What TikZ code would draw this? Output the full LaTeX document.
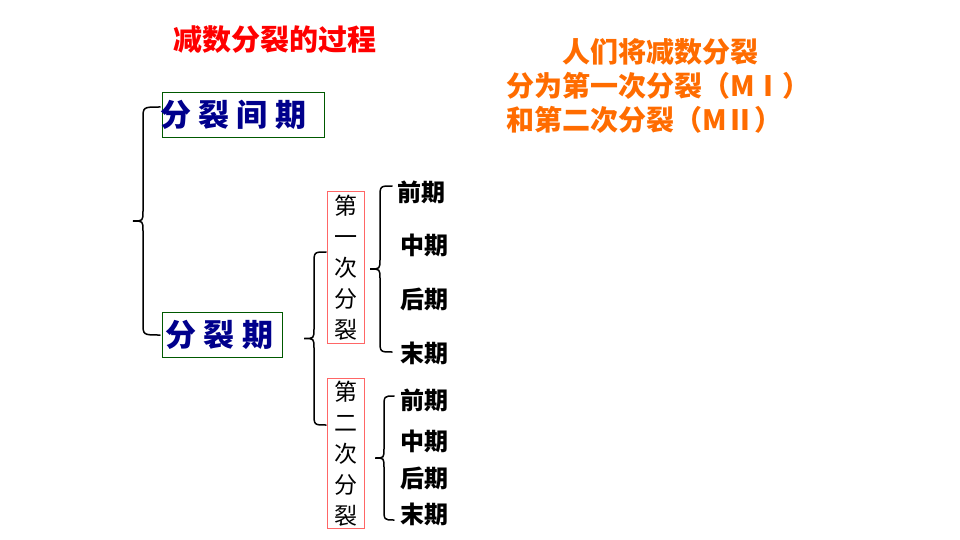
\documentclass[tikz,border=0pt]{standalone}
\usepackage{fontspec}
\setmainfont{Noto Sans CJK SC}
\begin{document}
\begin{tikzpicture}[x=1pt,y=-1pt,
  bluebox/.style={draw=green!35!black, line width=0.8pt, inner sep=0pt, font=\bfseries\fontsize{31}{31}\selectfont, text=blue!55!black},
  redbox/.style={draw=red!60, line width=0.8pt, inner sep=0pt, minimum width=37, align=center, font=\fontsize{23}{31}\selectfont},
  stage/.style={font=\bfseries\fontsize{24}{24}\selectfont},
  brace/.style={line width=1.5pt, line cap=round}]
\useasboundingbox (0,0) rectangle (960,540);
\newcommand{\curly}[5]{% end x, spine x, tip x, top y, bottom y
  \pgfmathsetmacro{\mid}{(#4+#5)/2}
  \draw[brace] (#1,#4) .. controls (#2,#4) .. (#2,#4+12) -- (#2,\mid-10)
    .. controls (#2,\mid) .. (#3,\mid) .. controls (#2,\mid) .. (#2,\mid+10)
    -- (#2,#5-12) .. controls (#2,#5) .. (#1,#5);}

% title and note
\node[text=red, font=\bfseries\fontsize{29}{29}\selectfont] (title) at (275,40) {减数分裂的过程};
\node[text=orange!85!red, font=\bfseries\fontsize{28}{34}\selectfont, align=left, anchor=north west, inner sep=0pt] (note) at (506,38)
  {\hspace{56pt}人们将减数分裂\\分为第一次分裂（MⅠ）\\和第二次分裂（MⅡ）};

% stages
\node[bluebox, minimum width=162, minimum height=45, anchor=north west] (inter) at (162,92) {\hspace{-20pt}分 裂 间 期};
\node[bluebox, minimum width=120, minimum height=45, anchor=north west] (div) at (162,312) {\hspace{-6pt}分 裂 期};
\node[redbox, minimum height=152, anchor=north west] (m1) at (327,191) {第\\一\\次\\分\\裂};
\node[redbox, minimum height=150, anchor=north west] (m2) at (327,378) {第\\二\\次\\分\\裂};

% phases
\node[stage] (p1) at (421,192) {前期};
\node[stage] (p2) at (424,245) {中期};
\node[stage] (p3) at (424,299) {后期};
\node[stage] (p4) at (424,353) {末期};
\node[stage] (q1) at (424,400) {前期};
\node[stage] (q2) at (424,441) {中期};
\node[stage] (q3) at (424,478) {后期};
\node[stage] (q4) at (424,514) {末期};

% braces
\curly{160}{143}{133}{107}{335}
\curly{326}{314}{304}{252}{425}
\curly{392}{380}{370}{186}{352}
\curly{394}{384}{375}{396}{520}
\end{tikzpicture}
\end{document}
